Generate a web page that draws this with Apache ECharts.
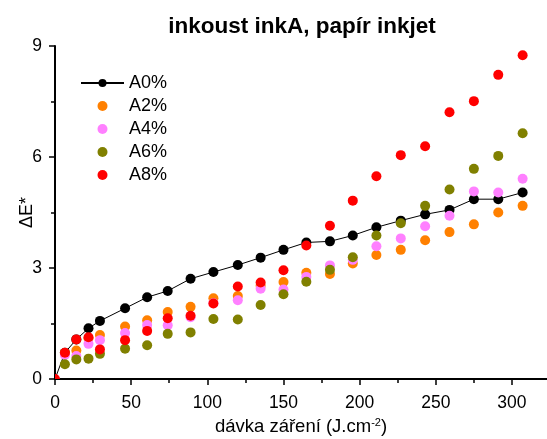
<!DOCTYPE html>
<html>
<head>
<meta charset="utf-8">
<script src="https://cdn.jsdelivr.net/npm/echarts@6/dist/echarts.min.js"></script>
<style>
  html, body { margin: 0; padding: 0; background: #fff; }
  #chart { width: 547px; height: 439px; }
</style>
</head>
<body>
<div id="chart"></div>
<script>
// Irradiation dose (J.cm-2) shared by all series
const dose = [0, 6.5, 14, 22, 29.5, 46, 60.5, 74, 89, 104, 120, 135, 150, 165, 180.5, 195.5, 211, 227, 243, 259, 275, 291, 307];

// Colour difference dE* for each ink coverage
const a0 = [0, 0.71, 1.07, 1.37, 1.57, 1.91, 2.21, 2.38, 2.71, 2.89, 3.08, 3.28, 3.49, 3.69, 3.72, 3.88, 4.10, 4.28, 4.45, 4.57, 4.86, 4.86, 5.04];
const a2 = [0, 0.70, 0.77, 1.10, 1.19, 1.42, 1.59, 1.81, 1.95, 2.18, 2.24, 2.52, 2.62, 2.87, 2.84, 3.12, 3.35, 3.49, 3.75, 3.97, 4.18, 4.50, 4.68];
const a4 = [0, 0.65, 0.62, 0.95, 1.05, 1.24, 1.46, 1.45, 1.67, 2.05, 2.13, 2.44, 2.42, 2.76, 3.07, 3.22, 3.59, 3.80, 4.13, 4.41, 5.07, 5.04, 5.41];
const a6 = [0, 0.40, 0.53, 0.55, 0.68, 0.82, 0.91, 1.22, 1.26, 1.62, 1.61, 2.00, 2.29, 2.63, 2.95, 3.29, 3.88, 4.21, 4.68, 5.12, 5.68, 6.03, 6.64];
const a8 = [0, 0.71, 1.07, 1.13, 0.80, 1.05, 1.30, 1.64, 1.71, 2.04, 2.50, 2.61, 2.94, 3.61, 4.14, 4.82, 5.48, 6.05, 6.29, 7.21, 7.51, 8.22, 8.75];

const seriesNames = ['A0%', 'A2%', 'A4%', 'A6%', 'A8%'];
const xMajorTicks = [0, 50, 100, 150, 200, 250, 300];
const xMinorTicks = [25, 75, 125, 175, 225, 275];

const FONT = '"Liberation Sans", Arial, sans-serif';

function pairs(ys) {
  return dose.map((x, i) => [x, ys[i]]);
}

// quarter disc: only the part of the origin dot inside the plot area shows
const quarterDisc = 'path://M0,10 L0,0 A10,10 0 0 1 10,10 Z';

function scatter(name, ys, color) {
  const data = pairs(ys).slice(1);
  return {
    name: name,
    type: 'scatter',
    symbol: 'circle',
    symbolSize: 10,
    itemStyle: { color: color, opacity: 1 },
    data: data,
    z: 3
  };
}

const red = scatter('A8%', a8, '#ff0000');
red.data.unshift({ value: [dose[0], a8[0]], symbol: quarterDisc, symbolSize: 5, symbolOffset: [2.5, -2.5] });

const chart = echarts.init(document.getElementById('chart'), null, { renderer: 'canvas' });

chart.setOption({
  animation: false,
  backgroundColor: '#ffffff',
  title: {
    text: 'inkoust inkA, papír inkjet',
    left: 297,
    textAlign: 'center',
    top: 10,
    textStyle: { fontFamily: FONT, fontSize: 22.5, fontWeight: 'bold', color: '#000' }
  },
  legend: {
    orient: 'vertical',
    left: 75,
    top: 69,
    itemWidth: 43,
    itemHeight: 10,
    itemGap: 5,
    data: seriesNames,
    textStyle: { fontFamily: FONT, fontSize: 18, color: '#000' }
  },
  grid: { left: 55, right: 0, top: 46, bottom: 60, containLabel: false, outerBoundsMode: 'none' },
  xAxis: [{
    type: 'value',
    min: 0,
    max: 323,
    name: 'dávka záření (J.cm{sup|-2})',
    nameLocation: 'middle',
    nameGap: 38,
    nameMoveOverlap: false,
    nameTextStyle: {
      fontFamily: FONT, fontSize: 18.5, color: '#000',
      rich: { sup: { fontFamily: FONT, fontSize: 11, color: '#000', padding: [0, 0, 9, 0] } }
    },
    splitLine: { show: false },
    axisLine: { show: true, onZero: false, lineStyle: { color: '#000', width: 2 } },
    axisTick: { show: true, length: 6, customValues: xMajorTicks, lineStyle: { color: '#000', width: 1.5 } },
    axisLabel: { customValues: xMajorTicks, margin: 15, fontFamily: FONT, fontSize: 17.5, color: '#000' }
  }, {
    // minor ticks between the labelled ones
    type: 'value',
    min: 0,
    max: 323,
    position: 'bottom',
    splitLine: { show: false },
    axisLine: { show: false },
    axisTick: { show: true, length: 4, customValues: xMinorTicks, lineStyle: { color: '#000', width: 1.5 } },
    axisLabel: { show: false }
  }],
  yAxis: {
    type: 'value',
    min: 0,
    max: 9,
    interval: 3,
    name: 'ΔE*',
    nameLocation: 'middle',
    nameGap: 19,
    nameMoveOverlap: false,
    nameTextStyle: { fontFamily: FONT, fontSize: 18, color: '#000' },
    splitLine: { show: false },
    axisLine: { show: true, onZero: false, lineStyle: { color: '#000', width: 2 } },
    axisTick: { show: true, length: 6, lineStyle: { color: '#000', width: 1.5 } },
    minorTick: { show: true, splitNumber: 2, length: 4, lineStyle: { color: '#000', width: 1.5 } },
    axisLabel: { margin: 13, fontFamily: FONT, fontSize: 17.5, color: '#000' }
  },
  series: [
    {
      name: 'A0%',
      type: 'line',
      symbol: 'circle',
      symbolSize: 10,
      showAllSymbol: true,
      itemStyle: { color: '#000' },
      lineStyle: { color: '#000', width: 1 },
      data: pairs(a0).map((p, i) => i === 0 ? { value: p, symbolSize: 0 } : p),
      z: 2
    },
    scatter('A2%', a2, '#ff8000'),
    scatter('A4%', a4, '#ff80ff'),
    scatter('A6%', a6, '#808000'),
    red
  ]
});
</script>
</body>
</html>
